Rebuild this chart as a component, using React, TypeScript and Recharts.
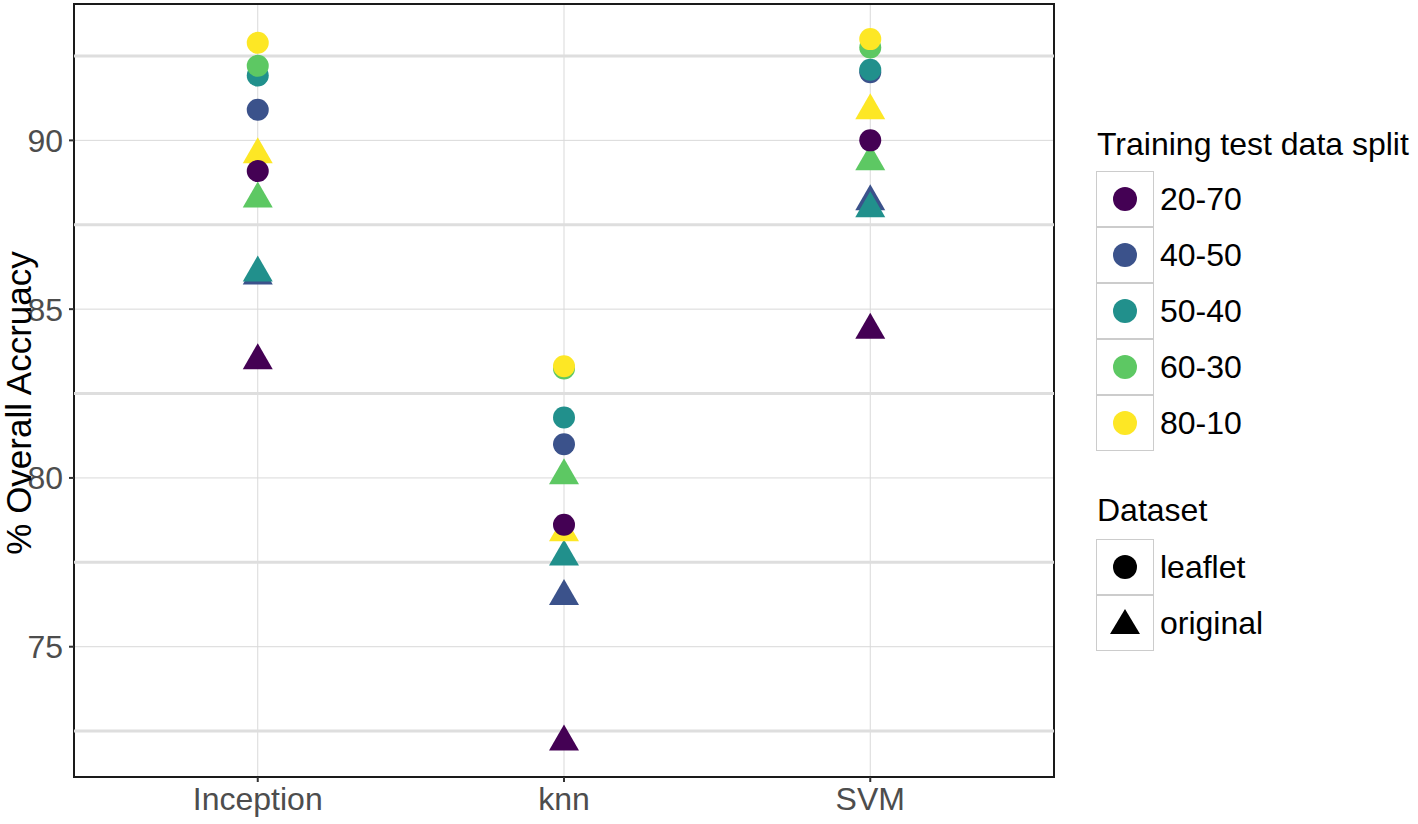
import { ScatterChart, Scatter, XAxis, YAxis, CartesianGrid, ReferenceLine, ReferenceArea } from 'recharts';

const models = ['Inception', 'knn', 'SVM'];
const splits = ['20-70', '40-50', '50-40', '60-30', '80-10'];
const splitColors = ['#440154', '#3B528B', '#21908C', '#5DC863', '#FDE725'];

// accuracy per model (Inception, knn, SVM)
const leaflet2070 = [89.09, 78.61, 90.0];
const leaflet4050 = [90.91, 81.0, 92.02];
const leaflet5040 = [91.92, 81.79, 92.09];
const leaflet6030 = [92.21, 83.24, 92.75];
const leaflet8010 = [92.89, 83.31, 93.0];

const original2070 = [83.48, 72.18, 84.38];
const original4050 = [85.99, 76.49, 88.19];
const original5040 = [86.08, 77.66, 87.98];
const original6030 = [88.27, 80.07, 89.37];
const original8010 = [89.58, 78.38, 90.88];

const leafletValues = [leaflet2070, leaflet4050, leaflet5040, leaflet6030, leaflet8010];
const originalValues = [original2070, original4050, original5040, original6030, original8010];

const yTicks = [75, 80, 85, 90];
const minorTicks = [72.5, 77.5, 82.5, 87.5, 92.5];
const yDomain = [71.14, 94.04];
const xDomain = [0.4, 3.6];

const font = '"Liberation Sans", Arial, sans-serif';

const toPoints = (vals: number[]) => vals.map((v, i) => ({ x: i + 1, y: v }));

const circleShape = (color: string) => (props: any) => (
    <circle cx={props.cx} cy={props.cy} r={11} fill={color} />
);

const triangleShape = (color: string) => (props: any) => {
    const { cx, cy } = props;
    const pts = `${cx},${cy - 17.3} ${cx + 15},${cy + 8.7} ${cx - 15},${cy + 8.7}`;
    return <polygon points={pts} fill={color} />;
};

function LegendBox({ children }: { children: React.ReactNode }) {
    return (
        <div
            style={{
                width: 58,
                height: 56,
                border: '1.5px solid #cccccc',
                boxSizing: 'border-box',
                display: 'flex',
                alignItems: 'center',
                justifyContent: 'center',
            }}
        >
            <svg width={34} height={34}>{children}</svg>
        </div>
    );
}

const legendText = { marginLeft: 6, fontSize: 32, color: '#000' };

export default function App() {
    return (
        <div style={{ position: 'absolute', left: 0, top: 0, width: 1418, height: 824, background: '#fff', fontFamily: font }}>
            <ScatterChart
                width={1418}
                height={824}
                margin={{ top: 4, right: 364, bottom: 2, left: 4 }}
            >
                <CartesianGrid stroke="#d9d9d9" strokeWidth={1} />
                {minorTicks.map((t) => (
                    <ReferenceLine key={t} y={t} stroke="#dedede" strokeWidth={3} />
                ))}
                <XAxis
                    type="number"
                    dataKey="x"
                    domain={xDomain}
                    ticks={[1, 2, 3]}
                    tickFormatter={(v: number) => models[v - 1]}
                    axisLine={false}
                    tickLine={{ stroke: '#333', strokeWidth: 2 }}
                    tickSize={5}
                    tickMargin={5}
                    height={45}
                    tick={{ fill: '#4d4d4d', fontSize: 32, fontFamily: font }}
                    allowDataOverflow
                />
                <YAxis
                    type="number"
                    dataKey="y"
                    domain={yDomain}
                    ticks={yTicks}
                    axisLine={false}
                    tickLine={{ stroke: '#333', strokeWidth: 2 }}
                    tickSize={5}
                    tickMargin={6}
                    width={70}
                    tick={{ fill: '#4d4d4d', fontSize: 32, fontFamily: font }}
                    allowDataOverflow
                />
                {originalValues.map((vals, i) => (
                    <Scatter
                        key={'o' + i}
                        name={splits[i]}
                        data={toPoints(vals)}
                        shape={triangleShape(splitColors[i])}
                        isAnimationActive={false}
                    />
                ))}
                {leafletValues.map((vals, i) => (
                    <Scatter
                        key={'l' + i}
                        name={splits[i]}
                        data={toPoints(vals)}
                        shape={circleShape(splitColors[i])}
                        isAnimationActive={false}
                    />
                ))}
                <ReferenceArea
                    x1={xDomain[0]}
                    x2={xDomain[1]}
                    y1={yDomain[0]}
                    y2={yDomain[1]}
                    fill="none"
                    fillOpacity={0}
                    stroke="#1a1a1a"
                    strokeWidth={2}
                />
            </ScatterChart>

            <div
                style={{
                    position: 'absolute',
                    left: 19,
                    top: 403,
                    transform: 'translate(-50%, -50%) rotate(-90deg)',
                    fontSize: 35,
                    color: '#000',
                    whiteSpace: 'nowrap',
                }}
            >
                % Overall Accruacy
            </div>

            <div style={{ position: 'absolute', left: 1097, top: 126, fontSize: 32, color: '#000', whiteSpace: 'nowrap' }}>
                Training test data split
            </div>
            <div style={{ position: 'absolute', left: 1096, top: 171 }}>
                {splits.map((s, i) => (
                    <div key={s} style={{ display: 'flex', alignItems: 'center' }}>
                        <LegendBox>
                            <circle cx={17} cy={17} r={12} fill={splitColors[i]} />
                        </LegendBox>
                        <span style={legendText}>{s}</span>
                    </div>
                ))}
            </div>

            <div style={{ position: 'absolute', left: 1097, top: 492, fontSize: 32, color: '#000' }}>Dataset</div>
            <div style={{ position: 'absolute', left: 1096, top: 539 }}>
                <div style={{ display: 'flex', alignItems: 'center' }}>
                    <LegendBox>
                        <circle cx={17} cy={17} r={12} fill="#000" />
                    </LegendBox>
                    <span style={legendText}>leaflet</span>
                </div>
                <div style={{ display: 'flex', alignItems: 'center' }}>
                    <LegendBox>
                        <polygon points="17,3 32,28 2,28" fill="#000" />
                    </LegendBox>
                    <span style={legendText}>original</span>
                </div>
            </div>
        </div>
    );
}
